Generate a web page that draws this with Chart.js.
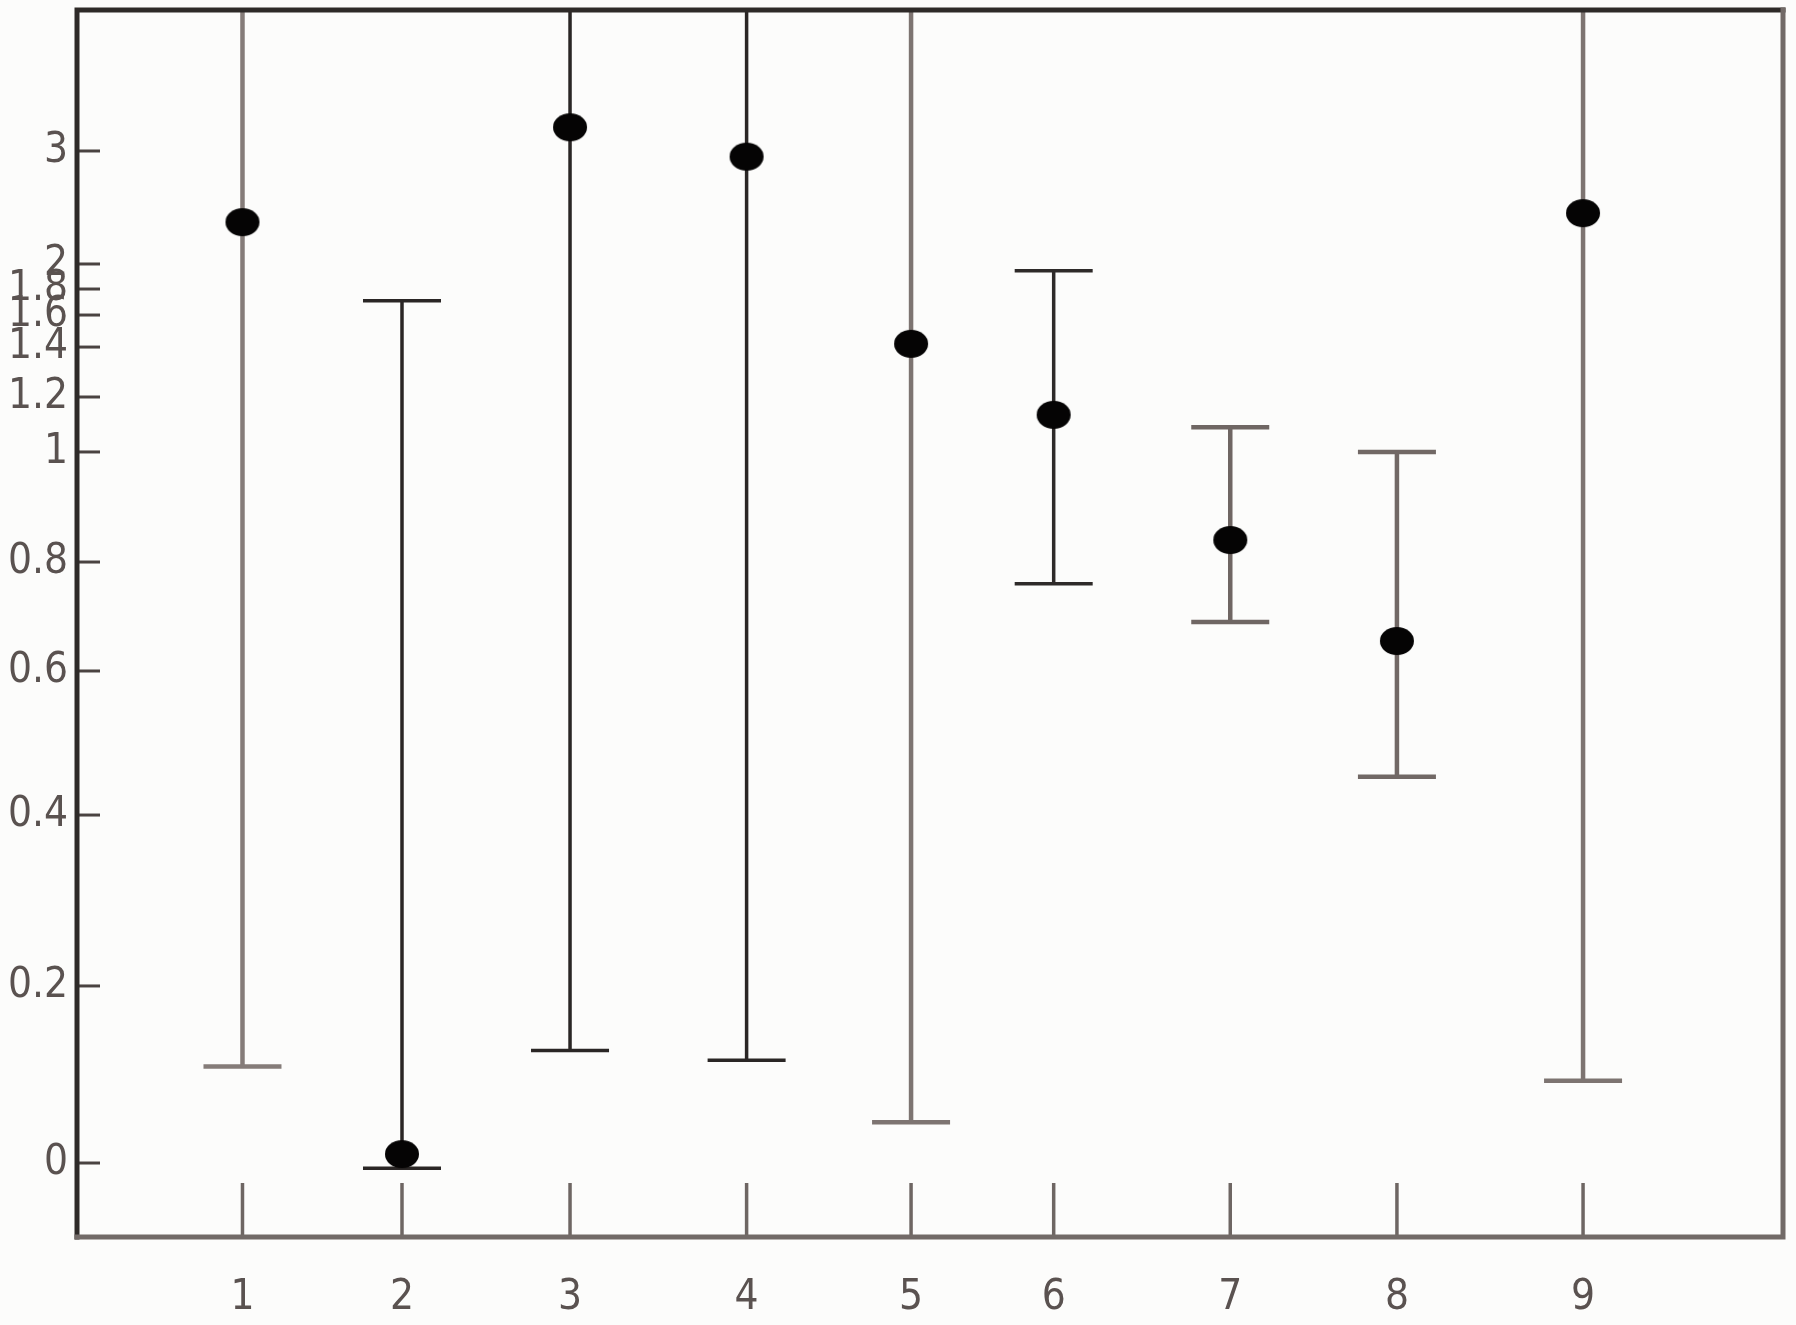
<!DOCTYPE html>
<html lang="en">
<head>
<meta charset="UTF-8">
<title>Means with error bars</title>
<script src="https://cdn.jsdelivr.net/npm/chart.js@4"></script>
<style>
  html, body { margin: 0; padding: 0; background: #fcfcfb; }
  #chart { display: block; }
</style>
</head>
<body>
<canvas id="chart" width="1796" height="1325"></canvas>
<script>
// groups along the x axis
const groups = [1, 2, 3, 4, 5, 6, 7, 8, 9];
// point estimates
const means = [2.37, 0.01, 3.21, 2.95, 1.42, 1.135, 0.84, 0.655, 2.45];
// error bar ends (upper ends above the frame are cut off in the original)
const lower = [0.109, -0.006, 0.127, 0.116, 0.046, 0.76, 0.69, 0.453, 0.093];
const upper = [4.6, 1.71, 4.6, 4.6, 4.6, 1.946, 1.09, 1.0, 4.6];
// tick labels
const yTickValues = [0, 0.2, 0.4, 0.6, 0.8, 1, 1.2, 1.4, 1.6, 1.8, 2, 3];
const xTickValues = [1, 2, 3, 4, 5, 6, 7, 8, 9];
// stem colour and width per group (some bars are printed darker than others)
const stemColors = ['#857c79', '#2a2625', '#2a2625', '#2a2625', '#7d7471', '#2e2a29', '#6f6663', '#716865', '#7d7471'];
const stemWidths = [4.5, 3.5, 3.5, 3.5, 4.5, 3.5, 4.5, 4.5, 4.5];

// linear scale whose axis is stretched piece by piece, [value, fraction of axis]
class WarpedScale extends Chart.LinearScale {
  buildTicks() {
    return this.options.tickValues.map(value => ({ value }));
  }
  getPixelForValue(value) {
    const k = this.options.warp;
    let i = 1;
    while (i < k.length - 1 && value > k[i][0]) i++;
    const [v0, d0] = k[i - 1], [v1, d1] = k[i];
    return this.getPixelForDecimal(d0 + (value - v0) / (v1 - v0) * (d1 - d0));
  }
  getValueForPixel(pixel) {
    const d = this.getDecimalForPixel(pixel);
    const k = this.options.warp;
    let i = 1;
    while (i < k.length - 1 && d > k[i][1]) i++;
    const [v0, d0] = k[i - 1], [v1, d1] = k[i];
    return v0 + (d - d0) / (d1 - d0) * (v1 - v0);
  }
}
WarpedScale.id = 'warped';
WarpedScale.defaults = Chart.LinearScale.defaults;
Chart.register(WarpedScale);

const dot = document.createElement('canvas');
dot.width = 36;
dot.height = 30;
const g = dot.getContext('2d');
g.fillStyle = '#050404';
g.beginPath();
g.ellipse(18, 15, 17, 14, 0, 0, Math.PI * 2);
g.fill();

const frameAndBars = {
  id: 'frameAndBars',
  beforeDatasetsDraw(chart) {
    const { ctx, chartArea: a, scales: { x, y } } = chart;
    ctx.save();
    ctx.beginPath();
    ctx.rect(a.left, a.top, a.right - a.left, a.bottom - a.top);
    ctx.clip();
    const capHalf = 39;
    groups.forEach((grp, i) => {
      const px = x.getPixelForValue(grp);
      const lo = y.getPixelForValue(lower[i]);
      const hi = y.getPixelForValue(upper[i]);
      ctx.strokeStyle = stemColors[i];
      ctx.lineWidth = stemWidths[i];
      ctx.beginPath();
      ctx.moveTo(px, lo);
      ctx.lineTo(px, hi);
      ctx.moveTo(px - capHalf, lo);
      ctx.lineTo(px + capHalf, lo);
      ctx.moveTo(px - capHalf, hi);
      ctx.lineTo(px + capHalf, hi);
      ctx.stroke();
    });
    ctx.restore();

    ctx.save();
    // inward tick marks
    ctx.strokeStyle = '#4a4341';
    ctx.lineWidth = 3;
    y.ticks.forEach(t => {
      const py = y.getPixelForValue(t.value);
      ctx.beginPath();
      ctx.moveTo(a.left, py);
      ctx.lineTo(a.left + 23, py);
      ctx.stroke();
    });
    ctx.strokeStyle = '#6e6663';
    ctx.lineWidth = 3.5;
    x.ticks.forEach(t => {
      const px = x.getPixelForValue(t.value);
      ctx.beginPath();
      ctx.moveTo(px, a.bottom);
      ctx.lineTo(px, a.bottom - 54);
      ctx.stroke();
    });
    // frame
    ctx.lineCap = 'square';
    ctx.strokeStyle = '#2e2a28';
    ctx.lineWidth = 5;
    ctx.beginPath();
    ctx.moveTo(a.left, a.bottom);
    ctx.lineTo(a.left, a.top);
    ctx.lineTo(a.right, a.top);
    ctx.stroke();
    ctx.strokeStyle = '#726a67';
    ctx.lineWidth = 5;
    ctx.beginPath();
    ctx.moveTo(a.right, a.top);
    ctx.lineTo(a.right, a.bottom);
    ctx.lineTo(a.left, a.bottom);
    ctx.stroke();
    ctx.restore();
  }
};

const tickFont = { family: "'DejaVu Sans Condensed', 'DejaVu Sans', sans-serif", size: 42 };

new Chart(document.getElementById('chart'), {
  type: 'scatter',
  data: {
    datasets: [{
      data: groups.map((grp, i) => ({ x: grp, y: means[i] })),
      pointStyle: dot,
      pointRadius: 15,
      showLine: false
    }]
  },
  options: {
    responsive: false,
    animation: false,
    layout: { autoPadding: false, padding: { top: 10, right: 13, left: 0, bottom: 0 } },
    plugins: { legend: { display: false }, tooltip: { enabled: false } },
    scales: {
      x: {
        type: 'warped',
        position: 'bottom',
        min: 0,
        max: 10.1,
        tickValues: xTickValues,
        warp: [[0, 0], [1, 0.097], [2, 0.1905], [3, 0.289], [4, 0.3925], [5, 0.4889],
               [6, 0.5725], [7, 0.676], [8, 0.7737], [9, 0.8828], [10.1, 1]],
        grid: { display: false, drawTicks: false },
        border: { display: false },
        ticks: { autoSkip: false, maxRotation: 0, padding: 36, color: '#5a5250', font: tickFont,
                 callback: v => String(v) },
        afterFit: s => { s.height = 88; s.paddingLeft = 0; s.paddingRight = 0; }
      },
      y: {
        type: 'warped',
        position: 'left',
        min: -0.084,
        max: 4.25,
        tickValues: yTickValues,
        warp: [[-0.084, 0], [0, 0.0603], [0.2, 0.2046], [0.4, 0.3439], [0.6, 0.4613],
               [0.8, 0.5501], [1, 0.6398], [1.2, 0.6846], [1.4, 0.7253], [1.6, 0.7514],
               [1.8, 0.7726], [2, 0.793], [3, 0.8851], [4.25, 1]],
        grid: { display: false, drawTicks: false },
        border: { display: false },
        ticks: { autoSkip: false, padding: 9, color: '#5a5250', font: tickFont,
                 callback: v => String(v) },
        afterFit: s => { s.width = 77; s.paddingTop = 0; s.paddingBottom = 0; }
      }
    }
  },
  plugins: [frameAndBars]
});
</script>
</body>
</html>
